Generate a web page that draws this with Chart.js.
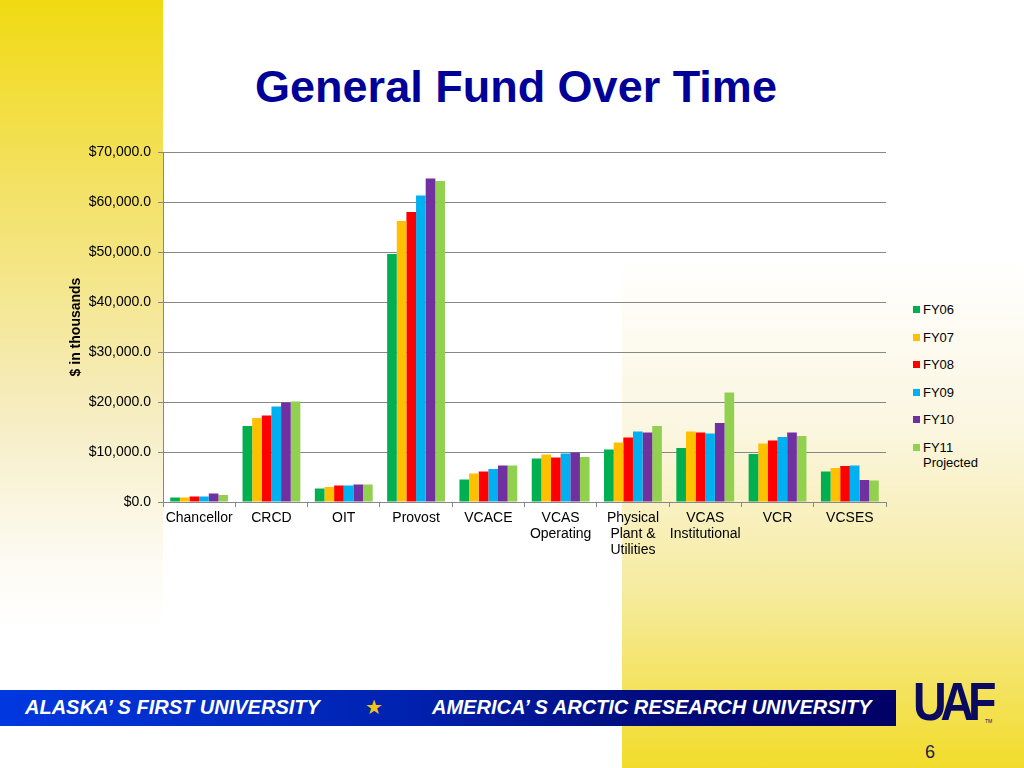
<!DOCTYPE html>
<html>
<head>
<meta charset="utf-8">
<script src="https://cdn.jsdelivr.net/npm/chart.js@4.4.1/dist/chart.umd.min.js"></script>
<style>
  html, body { margin: 0; padding: 0; }
  body { width: 1024px; height: 768px; position: relative; overflow: hidden; background: #fff;
         font-family: "Liberation Sans", Arial, sans-serif; }
  #leftStrip { position: absolute; left: 0; top: 0; width: 163px; height: 768px;
               background: linear-gradient(to bottom, #f1da12 0px, #f3e26a 200px, #f6edc4 420px, #fdfbf2 560px, #ffffff 630px); }
  #rightBlock { position: absolute; left: 622px; top: 260px; width: 402px; height: 508px;
                background: linear-gradient(to bottom, rgba(255,255,255,0) 0px, #fbf6e0 170px, #f6eba0 330px, #f2dc2a 508px); }
  #title { position: absolute; left: 0; width: 1032px; top: 61px; text-align: center;
           font-size: 45px; font-weight: bold; color: #000099; }
  #chartWrap { position: absolute; left: 64px; top: 135px; }
  #legend { position: absolute; left: 913px; top: 302px; font-size: 13px; color: #000; }
  .item { position: absolute; left: 0; white-space: nowrap; line-height: 15px; }
  .sw { position: absolute; left: 0; top: 4px; width: 7px; height: 7px; }
  .lab { position: absolute; left: 10px; top: 0; }
  #footer { position: absolute; left: 0; top: 690px; width: 896px; height: 36px;
            background: linear-gradient(to right, #0038e0 0%, #0022b0 45%, #000a78 75%, #000066 100%); }
  .ft { position: absolute; top: 6px; color: #fff; font-size: 20px; font-weight: bold; font-style: italic; }
  #star { position: absolute; left: 365px; top: 5px; color: #f4c21c; font-size: 20px; font-family: "DejaVu Sans"; }
  #logo { position: absolute; left: 913px; top: 671px; font-size: 53px; font-weight: 900; color: #0a0a5e;
          font-family: "Liberation Sans", Arial; letter-spacing: -7px; transform: scaleX(0.88); transform-origin: left; }
  #tm { position: absolute; left: 985px; top: 718px; font-size: 5px; color: #0a0a5e; }
  #page { position: absolute; left: 925px; top: 742px; font-size: 18px; color: #1c1c50; }
</style>
</head>
<body>
<div id="leftStrip"></div>
<div id="rightBlock"></div>
<div id="title">General Fund Over Time</div>
<div id="chartWrap"><canvas id="fundChart" width="840" height="440"></canvas></div>
<div id="legend"></div>
<div id="footer">
  <span class="ft" style="left:25px;">ALASKA’ S FIRST UNIVERSITY</span>
  <span id="star">★</span>
  <span class="ft" style="left:432px;">AMERICA’ S ARCTIC RESEARCH UNIVERSITY</span>
</div>
<div id="logo">UAF</div>
<div id="tm">TM</div>
<div id="page">6</div>
<script>
const categories = [
    ['Chancellor'], ['CRCD'], ['OIT'], ['Provost'], ['VCACE'],
    ['VCAS', 'Operating'], ['Physical', 'Plant &', 'Utilities'],
    ['VCAS', 'Institutional'], ['VCR'], ['VCSES']
];

const fy06 = [900, 15200, 2700, 49600, 4500, 8700, 10500, 10800, 9600, 6100];
const fy07 = [900, 16800, 3000, 56200, 5700, 9500, 11900, 14100, 11700, 6800];
const fy08 = [1100, 17300, 3300, 58000, 6100, 8900, 12900, 13900, 12300, 7200];
const fy09 = [1100, 19100, 3300, 61300, 6600, 9700, 14100, 13700, 13000, 7300];
const fy10 = [1700, 19900, 3500, 64700, 7300, 9900, 13900, 15800, 13900, 4400];
const fy11 = [1400, 20100, 3500, 64200, 7300, 9000, 15200, 21900, 13200, 4300];

const seriesNames = ['FY06', 'FY07', 'FY08', 'FY09', 'FY10', ['FY11', 'Projected']];
const seriesColors = ['#00b050', '#ffc000', '#ff0000', '#00b0f0', '#7030a0', '#92d050'];
const seriesValues = [fy06, fy07, fy08, fy09, fy10, fy11];

const yTicks = [0, 10000, 20000, 30000, 40000, 50000, 60000, 70000];

const gridGray = '#878787';

const fundData = {
    labels: categories,
    datasets: seriesValues.map(function(vals, i) {
        return {
            label: Array.isArray(seriesNames[i]) ? seriesNames[i].join(' ') : seriesNames[i],
            data: vals,
            backgroundColor: seriesColors[i],
            borderWidth: 0,
            barPercentage: 1.0,
            categoryPercentage: 0.8
        };
    })
};

const fundConfig = {
    type: 'bar',
    data: fundData,
    options: {
        responsive: false,
        devicePixelRatio: 1,
        animation: false,
        layout: {
            padding: { top: 17, right: 18, left: 0, bottom: 0 }
        },
        scales: {
            x: {
                grid: {
                    offset: true,
                    drawOnChartArea: false,
                    tickLength: 5,
                    color: gridGray
                },
                border: { color: gridGray },
                ticks: {
                    color: '#000',
                    padding: 3,
                    maxRotation: 0,
                    autoSkip: false,
                    font: { family: 'Liberation Sans', size: 14, lineHeight: 1.15 }
                },
                afterFit: function(scale) { scale.height = 73; }
            },
            y: {
                min: 0,
                max: 70000,
                afterBuildTicks: function(scale) {
                    scale.ticks = yTicks.map(function(v) { return { value: v }; });
                },
                grid: {
                    color: gridGray,
                    tickLength: 5
                },
                border: { color: gridGray },
                ticks: {
                    color: '#000',
                    padding: 7,
                    font: { family: 'Liberation Sans', size: 14 },
                    callback: function(value) {
                        return '$' + value.toLocaleString('en-US', { minimumFractionDigits: 1, maximumFractionDigits: 1 });
                    }
                },
                title: {
                    display: true,
                    text: '$ in thousands',
                    color: '#000',
                    font: { family: 'Liberation Sans', size: 14, weight: 'bold' }
                },
                afterFit: function(scale) { scale.width = 99; }
            }
        },
        plugins: {
            legend: { display: false },
            tooltip: { enabled: false }
        }
    }
};

const fundChart = new Chart(document.getElementById('fundChart'), fundConfig);

// legend on the right, FY11 wraps onto two lines
const legendBox = document.getElementById('legend');
seriesNames.forEach(function(name, i) {
    const item = document.createElement('div');
    item.className = 'item';
    item.style.top = (i * 27.6) + 'px';
    const sw = document.createElement('div');
    sw.className = 'sw';
    sw.style.background = seriesColors[i];
    const lab = document.createElement('div');
    lab.className = 'lab';
    lab.innerHTML = Array.isArray(name) ? name.join('<br>') : name;
    item.appendChild(sw);
    item.appendChild(lab);
    legendBox.appendChild(item);
});
</script>
</body>
</html>
